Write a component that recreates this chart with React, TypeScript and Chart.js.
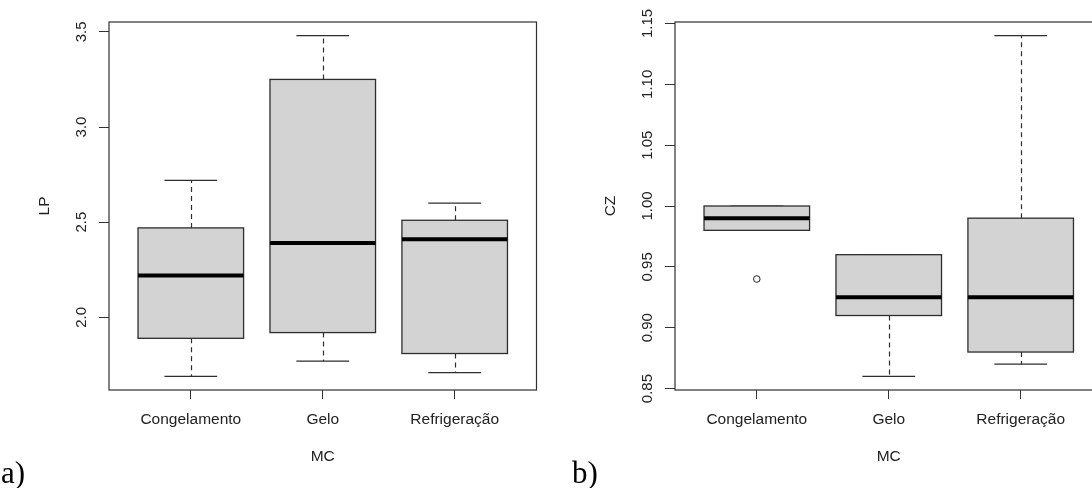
import React, { useEffect, useRef } from "react";
import { Chart, registerables } from "chart.js";

Chart.register(...registerables);

// ---------- data ----------
const categories = ["Congelamento", "Gelo", "Refrigeração"];
const xAxisTitle = "MC";

const lpTitle = "LP";
const lpWhiskerLow = [1.69, 1.77, 1.71];
const lpQ1 = [1.89, 1.92, 1.81];
const lpMedian = [2.22, 2.39, 2.41];
const lpQ3 = [2.47, 3.25, 2.51];
const lpWhiskerHigh = [2.72, 3.48, 2.6];
const lpOutlierGroups: number[] = [];
const lpOutlierValues: number[] = [];
const lpTickValues = [2.0, 2.5, 3.0, 3.5];
const lpTickLabels = ["2.0", "2.5", "3.0", "3.5"];

const czTitle = "CZ";
const czWhiskerLow = [0.98, 0.86, 0.87];
const czQ1 = [0.98, 0.91, 0.88];
const czMedian = [0.99, 0.925, 0.925];
const czQ3 = [1.0, 0.96, 0.99];
const czWhiskerHigh = [1.0, 0.96, 1.14];
const czOutlierGroups = [0];
const czOutlierValues = [0.94];
const czTickValues = [0.85, 0.9, 0.95, 1.0, 1.05, 1.1, 1.15];
const czTickLabels = ["0.85", "0.90", "0.95", "1.00", "1.05", "1.10", "1.15"];

const panelLetters = ["a)", "b)"];

// ---------- styling ----------
const SANS = "'Liberation Sans', Arial, sans-serif";
const TEXT = "#222222";
const BOX_FILL = "#d3d3d3";
const LINE = "#2e2e2e";

const rBoxPlugin = {
  id: "rbox",
  beforeDatasetsDraw(chart: any, _args: any, opts: any) {
    const { ctx } = chart;
    const xs = chart.scales.x;
    const ys = chart.scales.y;
    ctx.save();
    const n = opts.q1.length;
    for (let i = 0; i < n; i++) {
      const c = i + 1;
      const xl = xs.getPixelForValue(c - 0.4);
      const xr = xs.getPixelForValue(c + 0.4);
      const xc = Math.round(xs.getPixelForValue(c)) + 0.5;
      const sl = xs.getPixelForValue(c - 0.2);
      const sr = xs.getPixelForValue(c + 0.2);
      const yLo = ys.getPixelForValue(opts.whiskerLow[i]);
      const yQ1 = ys.getPixelForValue(opts.q1[i]);
      const yMed = ys.getPixelForValue(opts.median[i]);
      const yQ3 = ys.getPixelForValue(opts.q3[i]);
      const yHi = ys.getPixelForValue(opts.whiskerHigh[i]);

      // whiskers (dashed)
      ctx.strokeStyle = LINE;
      ctx.lineWidth = 1.2;
      ctx.setLineDash([5, 4]);
      ctx.beginPath();
      ctx.moveTo(xc, yQ3);
      ctx.lineTo(xc, yHi);
      ctx.moveTo(xc, yQ1);
      ctx.lineTo(xc, yLo);
      ctx.stroke();
      ctx.setLineDash([]);

      // staples
      ctx.beginPath();
      ctx.moveTo(sl, yHi);
      ctx.lineTo(sr, yHi);
      ctx.moveTo(sl, yLo);
      ctx.lineTo(sr, yLo);
      ctx.stroke();

      // box
      ctx.fillStyle = BOX_FILL;
      ctx.fillRect(xl, yQ3, xr - xl, yQ1 - yQ3);
      ctx.lineWidth = 1.3;
      ctx.strokeStyle = LINE;
      ctx.strokeRect(xl, yQ3, xr - xl, yQ1 - yQ3);

      // median
      ctx.strokeStyle = "#000000";
      ctx.lineWidth = 4;
      ctx.beginPath();
      ctx.moveTo(xl, yMed);
      ctx.lineTo(xr, yMed);
      ctx.stroke();
    }
    ctx.restore();
  },
  afterDraw(chart: any, _args: any, opts: any) {
    const { ctx, chartArea } = chart;
    const ys = chart.scales.y;
    ctx.save();
    // plot frame
    ctx.strokeStyle = "#303030";
    ctx.lineWidth = 1.2;
    ctx.strokeRect(chartArea.left, chartArea.top, chartArea.right - chartArea.left, chartArea.bottom - chartArea.top);
    // rotated y tick labels
    ctx.fillStyle = TEXT;
    ctx.font = `15px ${SANS}`;
    ctx.textAlign = "center";
    ctx.textBaseline = "middle";
    ys.ticks.forEach((t: any) => {
      const py = ys.getPixelForValue(t.value);
      ctx.save();
      ctx.translate(chartArea.left - opts.labelOffset, py);
      ctx.rotate(-Math.PI / 2);
      ctx.fillText(String(t.label), 0, 0);
      ctx.restore();
    });
    ctx.restore();
  },
};

type Panel = {
  yTitle: string;
  whiskerLow: number[];
  q1: number[];
  median: number[];
  q3: number[];
  whiskerHigh: number[];
  outlierGroups: number[];
  outlierValues: number[];
  tickValues: number[];
  tickLabels: string[];
};

const panels: Panel[] = [
  {
    yTitle: lpTitle,
    whiskerLow: lpWhiskerLow,
    q1: lpQ1,
    median: lpMedian,
    q3: lpQ3,
    whiskerHigh: lpWhiskerHigh,
    outlierGroups: lpOutlierGroups,
    outlierValues: lpOutlierValues,
    tickValues: lpTickValues,
    tickLabels: lpTickLabels,
  },
  {
    yTitle: czTitle,
    whiskerLow: czWhiskerLow,
    q1: czQ1,
    median: czMedian,
    q3: czQ3,
    whiskerHigh: czWhiskerHigh,
    outlierGroups: czOutlierGroups,
    outlierValues: czOutlierValues,
    tickValues: czTickValues,
    tickLabels: czTickLabels,
  },
];

function makeConfig(p: Panel): any {
  const all = [...p.whiskerLow, ...p.whiskerHigh, ...p.outlierValues];
  const dMin = Math.min(...all);
  const dMax = Math.max(...all);
  const ext = (dMax - dMin) * 0.04;
  const nGroups = categories.length;
  const xExt = nGroups * 0.04;
  return {
    type: "scatter",
    data: {
      datasets: [
        {
          data: p.outlierGroups.map((g, k) => ({ x: g + 1, y: p.outlierValues[k] })),
          pointStyle: "circle",
          pointRadius: 3.3,
          pointHoverRadius: 3.3,
          backgroundColor: "rgba(0,0,0,0)",
          borderColor: "#222222",
          borderWidth: 1,
        },
      ],
    },
    options: {
      responsive: false,
      maintainAspectRatio: false,
      animation: false,
      events: [],
      layout: { padding: { left: 0, top: 22, right: 9.5, bottom: 0 } },
      plugins: {
        legend: { display: false },
        tooltip: { enabled: false },
        rbox: {
          whiskerLow: p.whiskerLow,
          q1: p.q1,
          median: p.median,
          q3: p.q3,
          whiskerHigh: p.whiskerHigh,
          labelOffset: 27,
        },
      },
      scales: {
        x: {
          type: "linear",
          position: "bottom",
          min: 0.5 - xExt,
          max: nGroups + 0.5 + xExt,
          afterBuildTicks: (s: any) => {
            s.ticks = categories.map((_, i) => ({ value: i + 1 }));
          },
          afterFit: (s: any) => {
            s.height = 98;
          },
          border: { display: false },
          grid: {
            drawOnChartArea: false,
            drawTicks: true,
            tickLength: 9,
            color: "#333333",
            lineWidth: 1,
          },
          ticks: {
            autoSkip: false,
            maxRotation: 0,
            minRotation: 0,
            padding: 11,
            color: TEXT,
            font: { family: SANS, size: 15.5 },
            callback: (v: any) => categories[Math.round(Number(v)) - 1] ?? "",
          },
          title: {
            display: true,
            text: xAxisTitle,
            color: TEXT,
            font: { family: SANS, size: 15.5 },
            padding: { top: 0, bottom: 22 },
          },
        },
        y: {
          type: "linear",
          position: "left",
          min: dMin - ext,
          max: dMax + ext,
          afterBuildTicks: (s: any) => {
            s.ticks = p.tickValues.map((v) => ({ value: v }));
          },
          afterFit: (s: any) => {
            s.width = 109;
          },
          border: { display: false },
          grid: {
            drawOnChartArea: false,
            drawTicks: true,
            tickLength: 10,
            color: "#333333",
            lineWidth: 1,
          },
          ticks: {
            display: false,
            callback: (v: any) => {
              const idx = p.tickValues.findIndex((t) => Math.abs(t - Number(v)) < 1e-9);
              return idx >= 0 ? p.tickLabels[idx] : "";
            },
          },
          title: {
            display: true,
            text: p.yTitle,
            color: TEXT,
            font: { family: SANS, size: 15.5 },
            padding: { top: 35, bottom: 0 },
          },
        },
      },
    },
    plugins: [rBoxPlugin],
  };
}

function BoxPanel({ panel }: { panel: Panel }) {
  const ref = useRef<HTMLCanvasElement | null>(null);
  useEffect(() => {
    if (!ref.current) return;
    const chart = new Chart(ref.current, makeConfig(panel));
    return () => chart.destroy();
  }, [panel]);
  return <canvas ref={ref} width={546} height={488} style={{ display: "block" }} />;
}

const letterStyle: React.CSSProperties = {
  position: "absolute",
  top: 457,
  fontFamily: "'Liberation Serif', 'Times New Roman', serif",
  fontSize: 31,
  lineHeight: "31px",
  color: "#000",
};

export default function App() {
  return (
    <div
      style={{
        position: "absolute",
        left: 0,
        top: 0,
        width: 1092,
        height: 488,
        overflow: "hidden",
        background: "#ffffff",
      }}
    >
      <div style={{ position: "absolute", left: 0, top: 0, width: 546, height: 488 }}>
        <BoxPanel panel={panels[0]} />
      </div>
      <div style={{ position: "absolute", left: 566, top: 0, width: 546, height: 488 }}>
        <BoxPanel panel={panels[1]} />
      </div>
      <div style={{ ...letterStyle, left: 1 }}>{panelLetters[0]}</div>
      <div style={{ ...letterStyle, left: 572 }}>{panelLetters[1]}</div>
    </div>
  );
}
